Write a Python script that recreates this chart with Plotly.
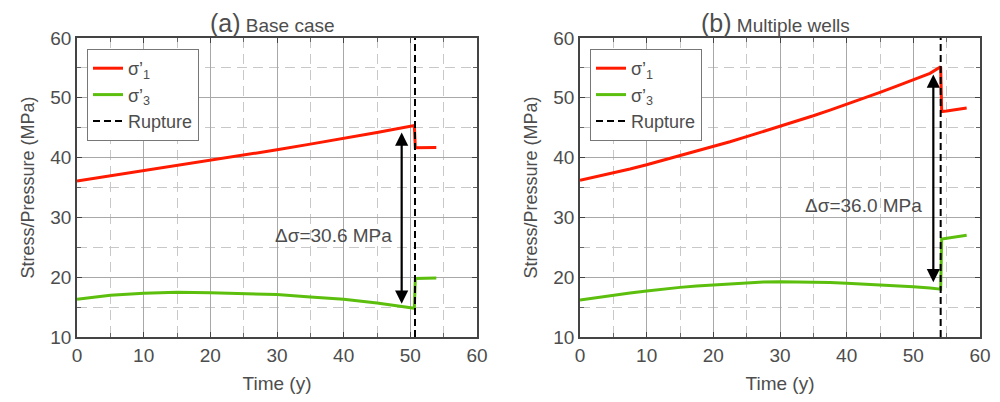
import plotly.graph_objects as go

# ---- data ----
# (a) Base case
t_a_pre = [0, 5, 10, 15, 20, 25, 30, 35, 40, 45, 50.6]
s1_a_pre = [36.1, 36.95, 37.8, 38.7, 39.6, 40.45, 41.3, 42.25, 43.2, 44.2, 45.35]
s3_a_pre = [16.3, 17.0, 17.3, 17.47, 17.4, 17.3, 17.1, 16.7, 16.3, 15.7, 14.8]
t_a_post = [50.6, 50.75, 53.9]
s1_a_post = [45.35, 41.65, 41.7]
s3_a_post = [14.8, 19.8, 19.85]
rupture_a = 50.7
arrow_a = dict(t=48.7, top=44.2, bottom=15.3, label="Δσ=30.6 MPa", lx=38.5, ly=27.0)

# (b) Multiple wells
t_b_pre = [0, 2.5, 5, 7.5, 10, 12.5, 15, 17.5, 20, 22.5, 25, 27.5, 30, 32.5, 35, 37.5, 40, 42.5, 45, 47.5, 50, 52.5, 54.1]
s1_b_pre = [36.2, 36.8, 37.4, 38.1, 38.8, 39.55, 40.3, 41.05, 41.8, 42.65, 43.5, 44.35, 45.2, 46.1, 47.0, 47.95, 48.9, 49.9, 50.9, 51.95, 53.0, 54.1, 55.2]
s3_b_pre = [16.2, 16.62, 17.0, 17.37, 17.7, 18.02, 18.3, 18.52, 18.7, 18.92, 19.1, 19.2, 19.25, 19.24, 19.2, 19.12, 19.0, 18.88, 18.75, 18.58, 18.4, 18.2, 18.0]
t_b_post = [54.1, 54.25, 55.0, 58.0]
s1_b_post = [55.2, 47.7, 47.8, 48.3]
s3_b_post = [18.0, 26.4, 26.5, 27.0]
rupture_b = 54.1
arrow_b = dict(t=53.0, top=53.9, bottom=18.9, label="Δσ=36.0 MPa", lx=42.5, ly=32.0)

titles = ["(a)", "(b)"]
subtitles = ["Base case", "Multiple wells"]

RED = "#ff1a00"
GREEN = "#5cbf0e"
TXT = "#4d4d4d"
FONT = "Liberation Sans"

# page shows the figure offset by the default 8px body margin
W, H, OFF = 992, 394, 8
def px(xp):
    return (xp - OFF) / W
def py(yp):
    return 1 - (yp - OFF) / H

fig = go.Figure()

panels = [
    ("x", "y", "legend", t_a_pre, s1_a_pre, s3_a_pre, t_a_post, s1_a_post, s3_a_post, rupture_a, arrow_a),
    ("x2", "y2", "legend2", t_b_pre, s1_b_pre, s3_b_pre, t_b_post, s1_b_post, s3_b_post, rupture_b, arrow_b),
]

for xa, ya, lg, tp, s1p, s3p, tq, s1q, s3q, rup, arr in panels:
    fig.add_trace(go.Scatter(x=tp + tq[1:], y=s1p + s1q[1:], mode="lines", line=dict(color=RED, width=3),
                             xaxis=xa, yaxis=ya, showlegend=False, hoverinfo="skip"))
    fig.add_trace(go.Scatter(x=tp + tq[1:], y=s3p + s3q[1:], mode="lines", line=dict(color=GREEN, width=3),
                             xaxis=xa, yaxis=ya, showlegend=False, hoverinfo="skip"))
    fig.add_trace(go.Scatter(x=[None], y=[None], mode="lines", line=dict(color=RED, width=3),
                             name="σ’<sub>1</sub>", xaxis=xa, yaxis=ya, legend=lg))
    fig.add_trace(go.Scatter(x=[None], y=[None], mode="lines", line=dict(color=GREEN, width=3),
                             name="σ’<sub>3</sub>", xaxis=xa, yaxis=ya, legend=lg))
    fig.add_trace(go.Scatter(x=[rup, rup], y=[10, 60], mode="lines", line=dict(color="black", width=2, dash="7px,4px"),
                             name="Rupture", xaxis=xa, yaxis=ya, legend=lg))
    fig.add_annotation(x=arr["t"], y=arr["top"], ax=arr["t"], ay=arr["bottom"], xref=xa, yref=ya, axref=xa, ayref=ya,
                       text="", showarrow=True, arrowhead=2, startarrowhead=2, arrowside="end+start",
                       arrowsize=1.2, startarrowsize=1.2, arrowwidth=2.2, arrowcolor="black")
    fig.add_annotation(x=arr["lx"], y=arr["ly"], xref=xa, yref=ya, text=arr["label"], showarrow=False,
                       xanchor="center", font=dict(family=FONT, size=19, color=TXT))

axis_common = dict(
    showline=True, linecolor="#444", linewidth=1.5, mirror="ticks",
    ticks="inside", ticklen=5, tickcolor="#444",
    showgrid=True, gridcolor="#a8a8a8", gridwidth=1,
    minor=dict(showgrid=True, gridcolor="#c8c8c8", griddash="10px,6px", gridwidth=1, dtick=5,
               ticks="inside", ticklen=4, tickcolor="#666"),
    tickfont=dict(family=FONT, size=19, color=TXT),
    zeroline=False, automargin=False,
)

xt = dict(text="Time (y)", font=dict(family=FONT, size=19, color=TXT), standoff=12)
yt = dict(text="Stress/Pressure (MPa)", font=dict(family=FONT, size=18, color=TXT), standoff=11)

ydom = [py(337), py(38)]
fig.update_layout(
    width=W, height=H,
    margin=dict(l=0, r=0, t=0, b=0),
    paper_bgcolor="white", plot_bgcolor="white",
    xaxis=dict(domain=[px(77), px(477)], range=[0, 60], dtick=10, anchor="y", ticklabelstandoff=0, title=xt, **axis_common),
    yaxis=dict(domain=ydom, range=[10, 60], dtick=10, anchor="x", title=yt, **axis_common),
    xaxis2=dict(domain=[px(580), px(980)], range=[0, 60], dtick=10, anchor="y2", ticklabelstandoff=0, title=xt, **axis_common),
    yaxis2=dict(domain=ydom, range=[10, 60], dtick=10, anchor="x2", title=yt, **axis_common),
    legend=dict(x=px(87), y=py(49), xanchor="left", yanchor="top", bgcolor="white", bordercolor="#777", borderwidth=1,
                font=dict(family=FONT, size=18, color=TXT), tracegroupgap=0),
    legend2=dict(x=px(590), y=py(49), xanchor="left", yanchor="top", bgcolor="white", bordercolor="#777", borderwidth=1,
                 font=dict(family=FONT, size=18, color=TXT), tracegroupgap=0),
    showlegend=True,
)

for i, cx in enumerate([272, 775]):
    fig.add_annotation(x=px(cx), y=1.0, xref="paper", yref="paper", xanchor="center", yanchor="top",
                       showarrow=False, borderpad=0,
                       text=f"<span style='font-size:25px'>{titles[i]}</span> {subtitles[i]}",
                       font=dict(family=FONT, size=19, color=TXT))

fig.write_html("out.html")
